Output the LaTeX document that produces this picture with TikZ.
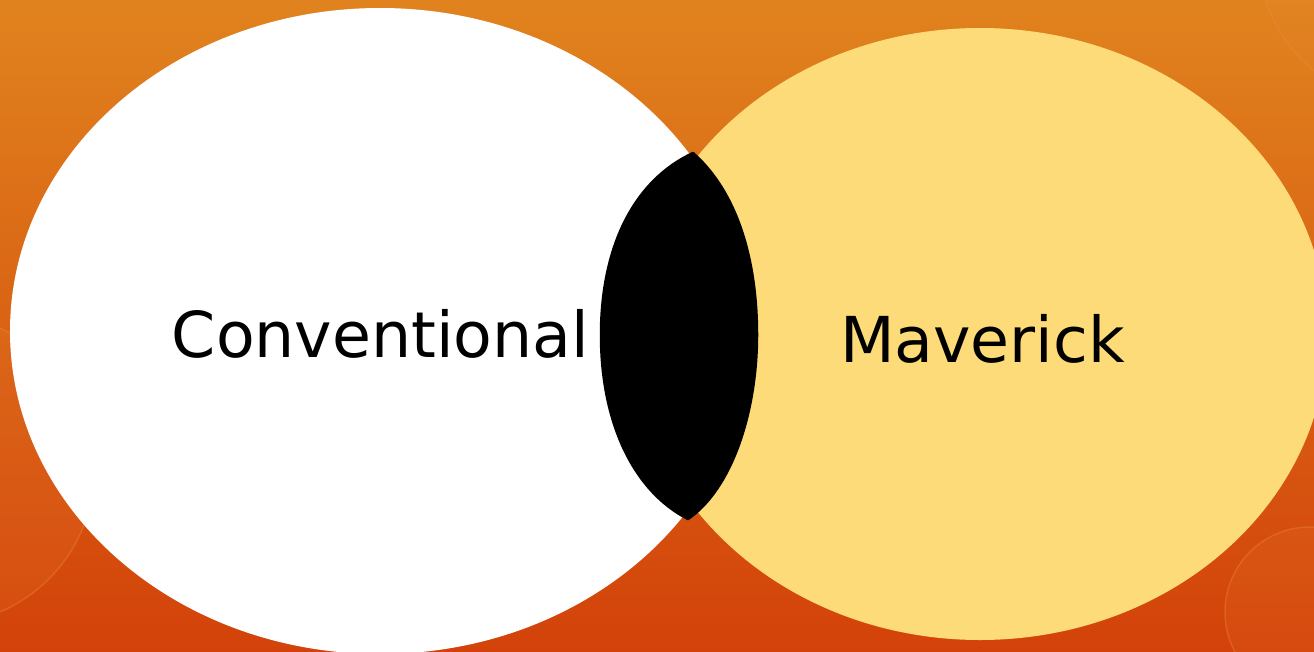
\documentclass[tikz,border=0pt]{standalone}
\usepackage{fontspec}
\setmainfont{DejaVu Sans}
\definecolor{BackTopClr}{RGB}{224,131,30}
\definecolor{BackBotClr}{RGB}{211,66,10}
\definecolor{GlowClr}{RGB}{238,140,60}
\definecolor{ConvClr}{RGB}{255,255,255}
\definecolor{MavClr}{RGB}{253,219,120}

\begin{document}
\begin{tikzpicture}[x=1pt,y=-1pt,
  set label/.style={font=\fontsize{63.3}{76}\selectfont,text=black,inner sep=0pt,anchor=base},
  glow ring/.style={draw=GlowClr,draw opacity=0.35,line width=1.5pt,fill=GlowClr,fill opacity=0.12}]
\useasboundingbox (0,0) rectangle (1314,651);
\clip (0,0) rectangle (1314,651);

\shade[top color=BackTopClr,bottom color=BackBotClr] (0,0) rectangle (1314,651);
\path[glow ring] (1310,612) circle (85);
\path[glow ring] (-60,470) circle (154);
\path[glow ring] (1400,-40) circle (140);

\fill[ConvClr] (380,331) ellipse [x radius=370,y radius=323];
\fill[MavClr] (980,334) ellipse [x radius=347,y radius=306];

\coordinate (LensTop) at (693,153);
\coordinate (LensBot) at (688,519);
\coordinate (LensL) at (601,335);
\coordinate (LensR) at (757,335);
\filldraw[line width=2.5pt,line cap=round,line join=round]
  (LensTop) .. controls (635,180) and (601,245) .. (LensL)
  .. controls (601,425) and (635,492) .. (LensBot)
  .. controls (733,488) and (757,410) .. (LensR)
  .. controls (757,255) and (735,190) .. (LensTop) -- cycle;

\node[set label] (conv) at (380.5,357) {Conventional};
\node[set label] (mav) at (982.5,362) {Maverick};

\end{tikzpicture}
\end{document}
